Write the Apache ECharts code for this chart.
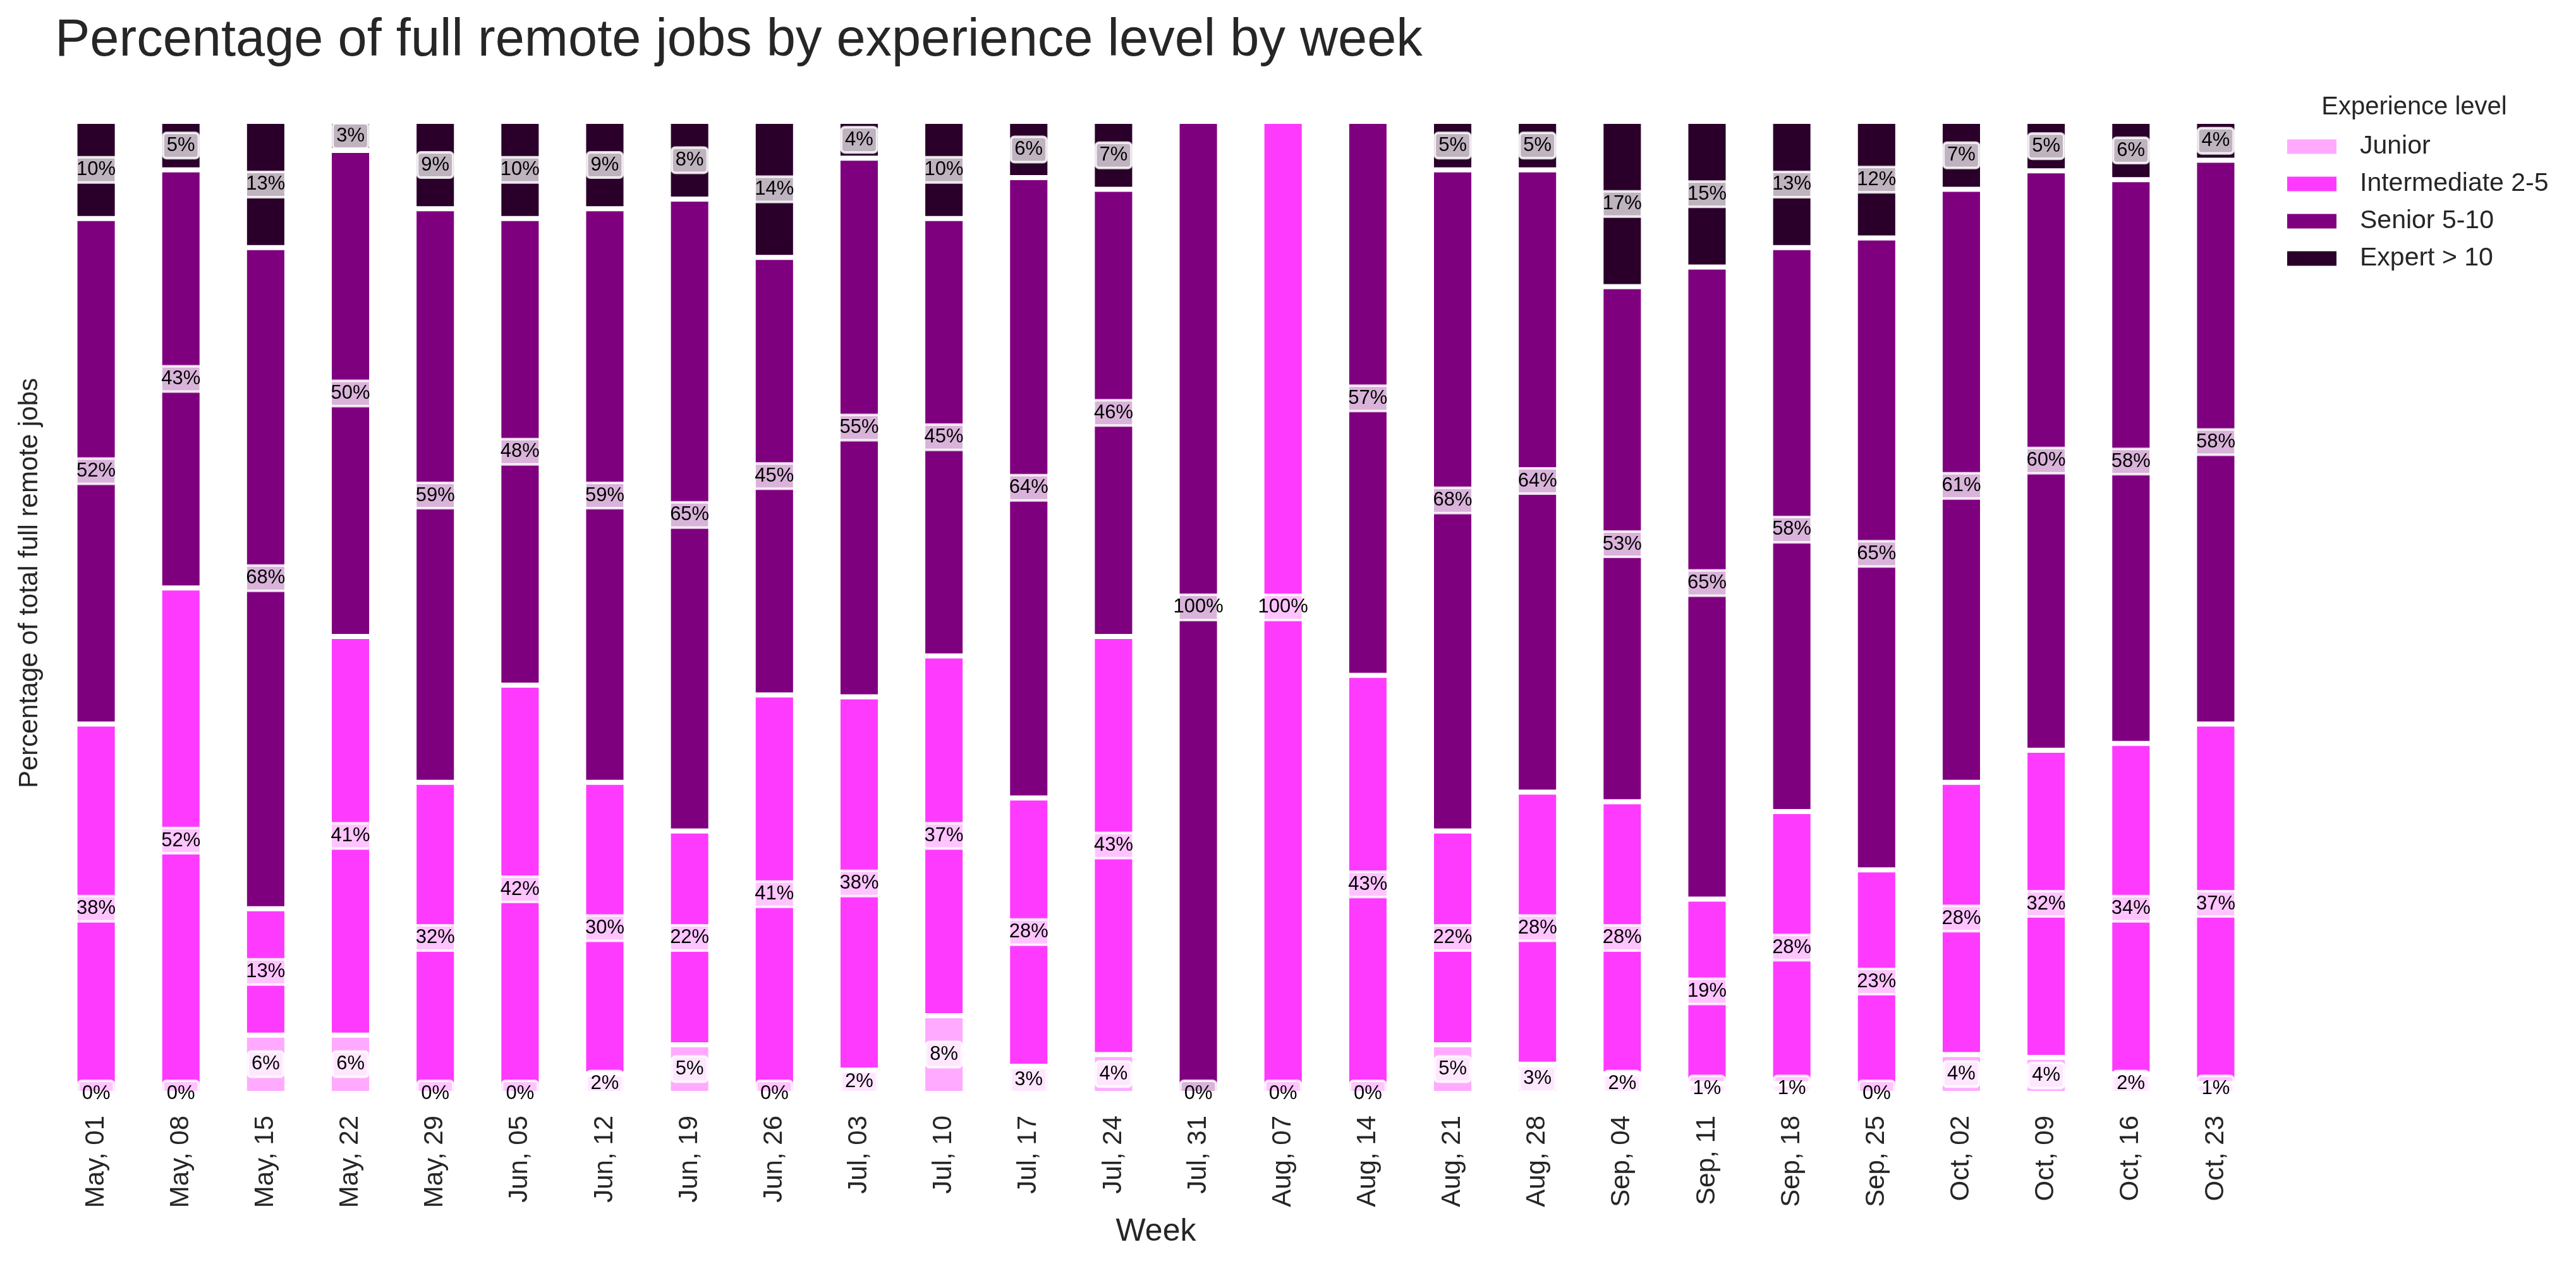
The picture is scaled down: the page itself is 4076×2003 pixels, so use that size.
<!DOCTYPE html>
<html>
<head>
<meta charset="utf-8">
<script src="https://cdn.jsdelivr.net/npm/echarts@6/dist/echarts.min.js"></script>
<style>
html,body{margin:0;padding:0;background:#fff;}
#chart{width:4076px;height:2003px;}
</style>
</head>
<body>
<div id="chart"></div>
<script>
const weeks = ['May, 01','May, 08','May, 15','May, 22','May, 29','Jun, 05','Jun, 12','Jun, 19','Jun, 26',
  'Jul, 03','Jul, 10','Jul, 17','Jul, 24','Jul, 31','Aug, 07','Aug, 14','Aug, 21','Aug, 28',
  'Sep, 04','Sep, 11','Sep, 18','Sep, 25','Oct, 02','Oct, 09','Oct, 16','Oct, 23'];
const seriesNames = ['Junior','Intermediate 2-5','Senior 5-10','Expert > 10'];
const junior       = [0,0,6,6,0,0,2,5,0,2.4,8,2.8,4,0,0,0,5,3,2,1,1,0,4,3.7,2,1];
const intermediate = [38,52,13,41,32,42,30,22,41,38.4,37,27.6,43,0,100,43,22,28,28,19,28,23,28,31.6,34,37];
const senior       = [52,43,68,50,59,48,59,65,45,55.4,45,63.8,46,100,0,57,68,64,53,65,58,65,61,59.6,58,58];
const expert       = [10,5,13,3,9,10,9,8,14,3.8,10,5.8,7,0,0,0,5,5,17,15,13,12,7,5.1,6,4];
const colors = ['#ffaaff','#ff3aff','#7f007f','#2a002a'];

const allValues = [junior, intermediate, senior, expert];
const TXT = '#262626';
const FONT = 'Liberation Sans, Arial, sans-serif';

function makeData(vals, si) {
  return vals.map(function (v) {
    const item = { value: v };
    const r = Math.round(v);
    if (v === 0 && si !== 0) {
      item.label = { show: false };
    } else if (r >= 10) {
      item.label = { width: 57, padding: [3, 3], borderRadius: 0, overflow: 'none' };
    }
    return item;
  });
}

const series = allValues.map(function (vals, si) {
  return {
    name: seriesNames[si],
    type: 'bar',
    stack: 'total',
    barWidth: '50%',
    data: makeData(vals, si),
    itemStyle: { color: colors[si], borderColor: '#ffffff', borderWidth: 4 },
    label: {
      show: true,
      position: 'inside',
      formatter: function (p) { return Math.round(p.value) + '%'; },
      color: '#000',
      fontSize: 31,
      fontFamily: FONT,
      lineHeight: 34,
      backgroundColor: 'rgba(255,255,255,0.7)',
      borderColor: 'rgba(255,255,255,0.85)',
      borderWidth: 2,
      borderRadius: 6,
      padding: [3, 6]
    },
    emphasis: { disabled: true }
  };
});

const chart = echarts.init(document.getElementById('chart'), null, { renderer: 'canvas' });
chart.setOption({
  animation: false,
  backgroundColor: '#ffffff',
  textStyle: { fontFamily: FONT },
  title: {
    text: 'Percentage of full remote jobs by experience level by week',
    left: 82,
    top: 19,
    textStyle: { fontSize: 83, fontWeight: 'normal', color: TXT, fontFamily: FONT }
  },
  graphic: [{
    type: 'text',
    x: 3820,
    y: 170,
    style: {
      text: 'Experience level',
      fontSize: 40,
      fontFamily: FONT,
      fill: TXT,
      textAlign: 'center',
      textVerticalAlign: 'middle'
    }
  }],
  legend: {
    orient: 'vertical',
    left: 3612,
    top: 205,
    itemWidth: 80,
    itemHeight: 25,
    itemGap: 15,
    icon: 'rect',
    data: seriesNames,
    textStyle: { fontSize: 41, color: TXT, fontFamily: FONT, lineHeight: 44, padding: [0, 0, 0, 31] }
  },
  grid: { left: 85, right: 503, top: 115, bottom: 273, containLabel: false },
  xAxis: {
    type: 'category',
    data: weeks,
    axisLine: { show: false },
    axisTick: { show: false },
    axisLabel: { rotate: 90, fontSize: 42, color: TXT, margin: 35, fontFamily: FONT },
    name: 'Week',
    nameLocation: 'middle',
    nameGap: 194,
    nameTextStyle: { fontSize: 50, color: TXT, fontFamily: FONT }
  },
  yAxis: {
    type: 'value',
    min: 0,
    max: 105,
    axisLine: { show: false },
    axisTick: { show: false },
    axisLabel: { show: false },
    splitLine: { show: false },
    name: 'Percentage of total full remote jobs',
    nameLocation: 'middle',
    nameGap: 17,
    nameTextStyle: { fontSize: 42, color: TXT, fontFamily: FONT }
  },
  series: series
});
</script>
</body>
</html>
